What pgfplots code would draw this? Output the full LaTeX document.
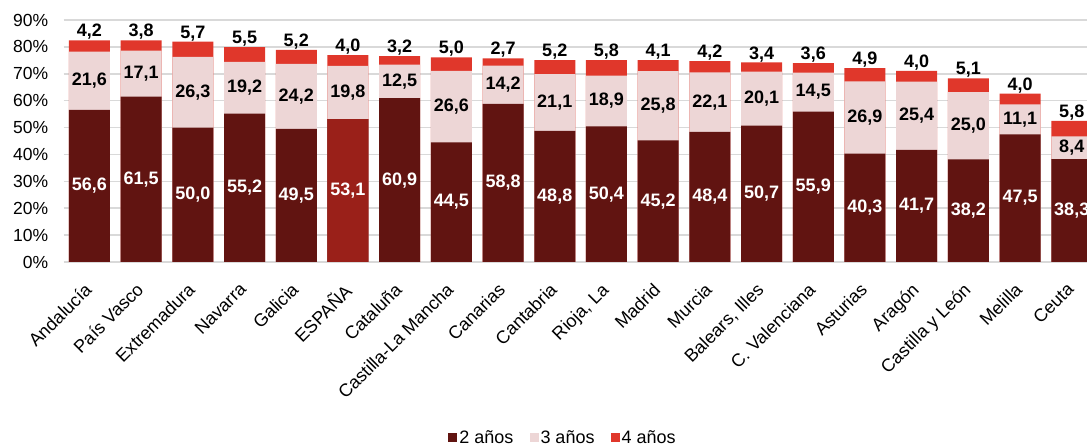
\documentclass[border=0pt]{standalone}
\usepackage{pgfplots}
\usepackage{pgfplotstable}
\pgfplotsset{compat=1.18}
\usepackage{fontspec}
\setmainfont{Liberation Sans}
\definecolor{cdark}{HTML}{611411}
\definecolor{cesp}{HTML}{9A2019}
\definecolor{clight}{HTML}{EDD6D6}
\definecolor{cred}{HTML}{E0372B}
\definecolor{cgrid}{HTML}{D9D9D9}
\pgfplotstableread{
x a b c e
0 56.6 21.6 4.2 0
1 61.5 17.1 3.8 0
2 50.0 26.3 5.7 0
3 55.2 19.2 5.5 0
4 49.5 24.2 5.2 0
5 53.1 19.8 4.0 53.1
6 60.9 12.5 3.2 0
7 44.5 26.6 5.0 0
8 58.8 14.2 2.7 0
9 48.8 21.1 5.2 0
10 50.4 18.9 5.8 0
11 45.2 25.8 4.1 0
12 48.4 22.1 4.2 0
13 50.7 20.1 3.4 0
14 55.9 14.5 3.6 0
15 40.3 26.9 4.9 0
16 41.7 25.4 4.0 0
17 38.2 25.0 5.1 0
18 47.5 11.1 4.0 0
19 38.3 8.4 5.8 0
}\data
\pgfplotsset{
  vlab/.style={sharp plot, draw=none, mark=none, forget plot, bar shift=0pt,
    point meta=explicit,
    nodes near coords={\pgfmathprintnumber[fixed,fixed zerofill,precision=1,use comma]{\pgfplotspointmeta}},
    every node near coord/.append style={font=\bfseries\fontsize{18}{18}\selectfont}},
}
\begin{document}
\begin{tikzpicture}
\useasboundingbox (0,0) rectangle (1087pt,446pt);
\begin{axis}[
  at={(63.6pt,184pt)}, anchor=south west,
  scale only axis, width=1034pt, height=242pt,
  xmin=-0.5, xmax=19.5, ymin=0, ymax=90,
  enlargelimits=false,
  ybar, bar width=41pt,
  /pgf/number format/assume math mode=true,
  axis line style={draw=none},
  major tick length=0pt,
  ymajorgrids, grid style={cgrid, line width=1.6pt},
  ytick={0,10,...,90},
  yticklabel={\pgfmathprintnumber[fixed,precision=0]{\tick}\%},
  yticklabel style={font=\fontsize{17.5}{17.5}\selectfont, xshift=-12pt},
  xtick={0,...,19},
  xticklabels={Andalucía,País Vasco,Extremadura,Navarra,Galicia,ESPAÑA,Cataluña,Castilla-La Mancha,Canarias,Cantabria,{Rioja, La},Madrid,Murcia,{Balears, Illes},C. Valenciana,Asturias,Aragón,Castilla y León,Melilla,Ceuta},
  xticklabel style={font=\fontsize{18}{18}\selectfont, xshift=-6pt, yshift=-18pt, rotate=45, anchor=north east, inner sep=1pt},
  legend style={at={(0.483,-0.727)}, anchor=center, draw=none, legend columns=-1,
    font=\fontsize{18}{18}\selectfont,
    /tikz/every even column/.append style={column sep=14pt}},
  legend image code/.code={\fill[#1] (0pt,-4.5pt) rectangle (9pt,4.5pt);},
  reverse legend,
]
\addplot[fill=cred, draw=none, bar shift=0pt] table[x=x, y expr=\thisrow{a}+\thisrow{b}+\thisrow{c}] {\data};
\addlegendentry{4 años}
\addplot[fill=clight, draw=none, bar shift=0pt] table[x=x, y expr=\thisrow{a}+\thisrow{b}] {\data};
\addlegendentry{3 años}
\addplot[fill=cdark, draw=none, bar shift=0pt] table[x=x, y=a] {\data};
\addlegendentry{2 años}
\addplot[fill=cesp, draw=none, bar shift=0pt, forget plot] table[x=x, y=e] {\data};
% value labels
\addplot[vlab, every node near coord/.append style={anchor=center, text=white}]
  table[x=x, y expr=\thisrow{a}/2, meta=a] {\data};
\addplot[vlab, every node near coord/.append style={anchor=center, text=black}]
  table[x=x, y expr=\thisrow{a}+\thisrow{b}/2, meta=b] {\data};
\addplot[vlab, every node near coord/.append style={anchor=south, text=black, inner sep=0.5pt}]
  table[x=x, y expr=\thisrow{a}+\thisrow{b}+\thisrow{c}, meta=c] {\data};
\end{axis}
\end{tikzpicture}
\end{document}
